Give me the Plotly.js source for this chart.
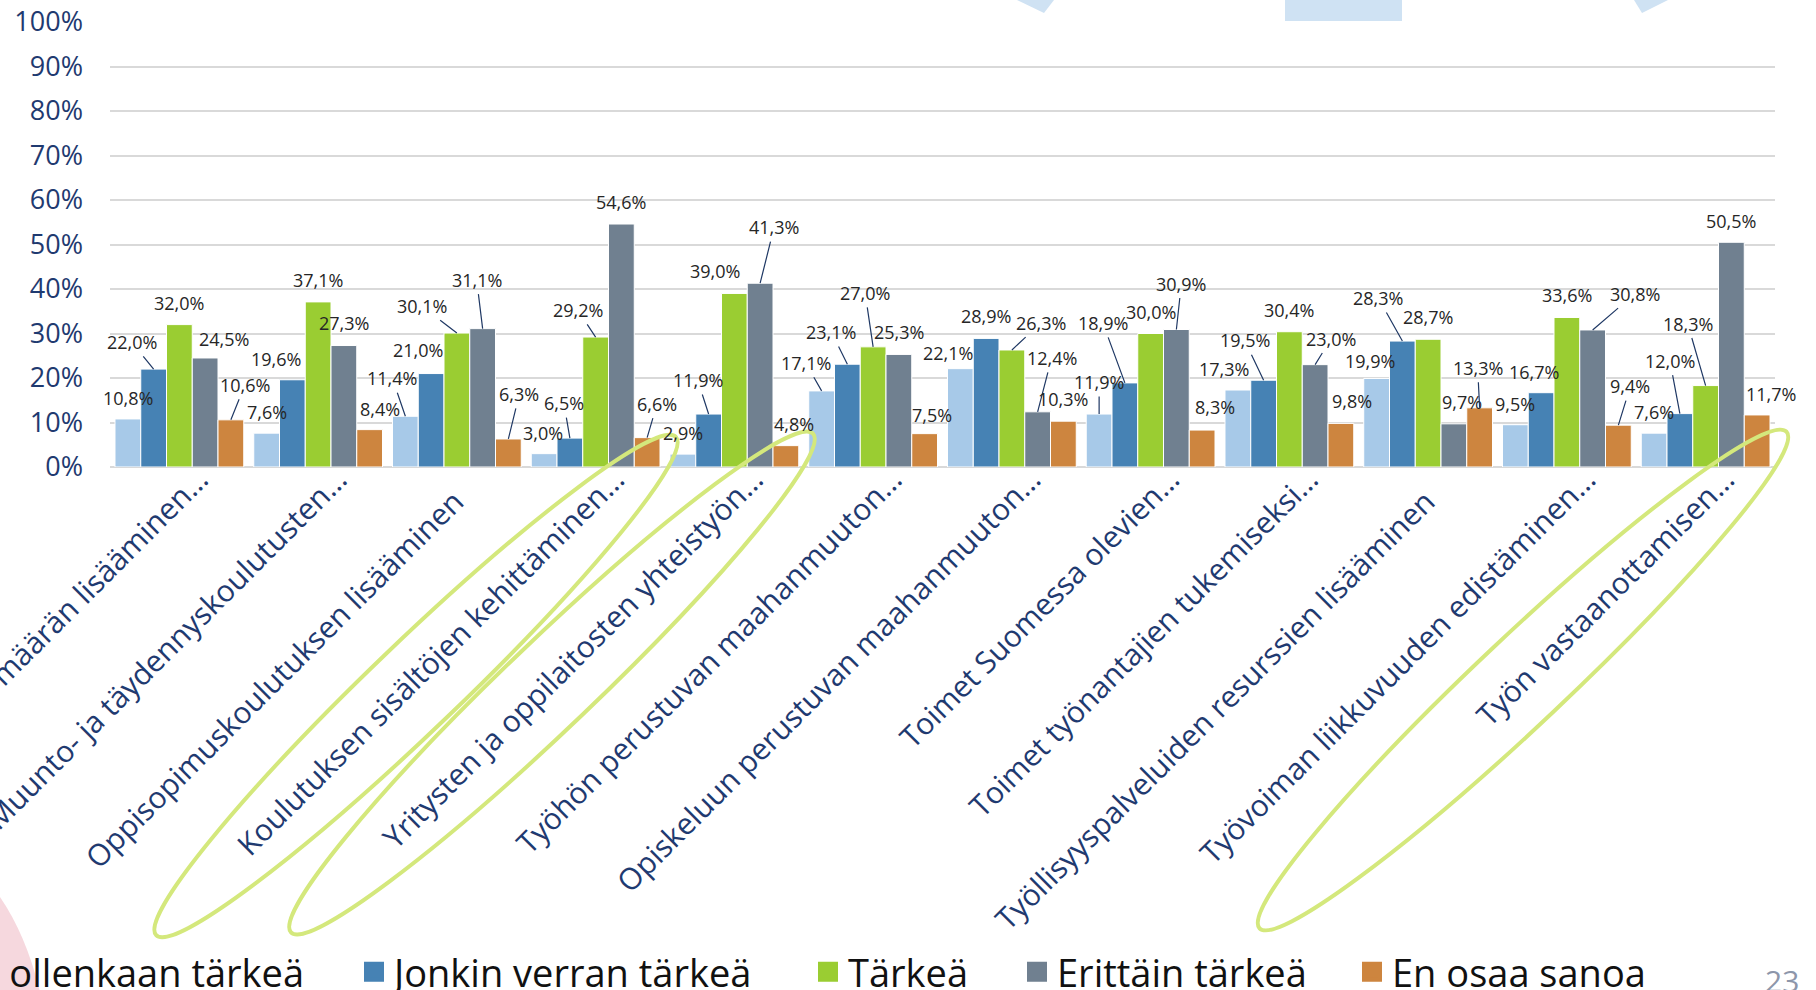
<!DOCTYPE html>
<html>
<head>
<meta charset="utf-8">
<script src="https://cdn.plot.ly/plotly-3.0.1.min.js"></script>
<style>html,body{margin:0;padding:0;background:#fff;overflow:hidden}</style>
</head>
<body>
<div id="chart" style="width:1816px;height:990px"></div>
<script>
// ---------- data ----------
const NB = '\u00A0\u00A0\u00A0\u00A0'; // trailing non-breaking spaces: aligns untruncated labels like the original
const categories = [
  'Koulutuspaikkojen määrän lisääminen…',
  'Muunto- ja täydennyskoulutusten…',
  'Oppisopimuskoulutuksen lisääminen' + NB,
  'Koulutuksen sisältöjen kehittäminen…',
  'Yritysten ja oppilaitosten yhteistyön…',
  'Työhön perustuvan maahanmuuton…',
  'Opiskeluun perustuvan maahanmuuton…',
  'Toimet Suomessa olevien…',
  'Toimet työnantajien tukemiseksi…',
  'Työllisyyspalveluiden resurssien lisääminen' + NB,
  'Työvoiman liikkuvuuden edistäminen…',
  'Työn vastaanottamisen…'
];
const seriesNames = ['Ei ollenkaan tärkeä', 'Jonkin verran tärkeä', 'Tärkeä', 'Erittäin tärkeä', 'En osaa sanoa'];
const eiOllenkaanTarkea  = [10.8, 7.6, 11.4, 3.0, 2.9, 17.1, 22.1, 11.9, 17.3, 19.9, 9.5, 7.6];
const jonkinVerranTarkea = [22.0, 19.6, 21.0, 6.5, 11.9, 23.1, 28.9, 18.9, 19.5, 28.3, 16.7, 12.0];
const tarkea             = [32.0, 37.1, 30.1, 29.2, 39.0, 27.0, 26.3, 30.0, 30.4, 28.7, 33.6, 18.3];
const erittainTarkea     = [24.5, 27.3, 31.1, 54.6, 41.3, 25.3, 12.4, 30.9, 23.0, 9.7, 30.8, 50.5];
const enOsaaSanoa        = [10.6, 8.4, 6.3, 6.6, 4.8, 7.5, 10.3, 8.3, 9.8, 13.3, 9.4, 11.7];
const yTickValues = [0, 10, 20, 30, 40, 50, 60, 70, 80, 90, 100];
const yTickLabels = ['0%', '10%', '20%', '30%', '40%', '50%', '60%', '70%', '80%', '90%', '100%'];
const pageNumber = '23';

// ---------- styling ----------
const seriesValues = [eiOllenkaanTarkea, jonkinVerranTarkea, tarkea, erittainTarkea, enOsaaSanoa];
const seriesColors = ['#A7C9E8', '#4682B4', '#9ACD32', '#708090', '#CD853F'];
const FONT = '"Open Sans", "Liberation Sans", sans-serif';
const NAVY = '#1F3A70';

// data-label placement (pixel offsets of label from bar top, leader line flag)
const labelPlacement = [
  [[0,-21,0],[0,-21,0],[-13,-38,1],[-1,-21,0],[0,-21,0],[-16,-28,1],[-12,-16,0],[0,-32,1],[-14,-21,0],[-7,-17,0],[0,-21,0],[0,-21,0]],
  [[-22,-27,1],[-16,-21,0],[-13,-24,0],[-6,-35,1],[-11,-34,1],[-16,-32,1],[0,-22,0],[-22,-60,1],[-19,-40,1],[-24,-43,1],[-7,-21,0],[-10,-53,1]],
  [[0,-22,0],[0,-22,0],[-35,-27,1],[-18,-27,1],[-19,-22,0],[-8,-54,1],[29,-27,1],[0,-22,0],[0,-22,0],[0,-22,0],[0,-22,0],[-18,-62,1]],
  [[19,-19,0],[0,-23,0],[-6,-49,1],[0,-22,0],[14,-56,1],[0,-22,0],[14,-54,1],[5,-46,1],[16,-26,1],[8,-22,0],[42,-36,1],[0,-21,0]],
  [[14,-35,1],[10,-21,0],[11,-45,1],[10,-34,1],[8,-22,0],[7,-19,0],[0,-22,0],[13,-23,0],[11,-22,0],[-2,-40,1],[12,-39,1],[14,-21,0]]
];

const W = 1816, H = 990;
const PL = 110, PR = 1775, PT = 22, PB = 467;
const BARGAP = 0.072;
const px2x = p => (p - PL) / (PR - PL);
const py2y = p => (PB - p) / (PB - PT);
const catW = (PR - PL) / categories.length;
const barW = catW * (1 - BARGAP) / seriesNames.length;

const fmt = v => v.toFixed(1).replace('.', ',') + '%';

// ---------- traces ----------
const traces = [];
seriesValues.forEach((vals, j) => {
  traces.push({
    type: 'bar', name: seriesNames[j], x: categories, y: vals,
    marker: {color: seriesColors[j], line: {color: '#FFFFFF', width: 1}},
    showlegend: false, hoverinfo: 'skip'
  });
});
// legend entries (one legend per series so spacing can follow the original)
seriesNames.forEach((nm, j) => {
  traces.push({
    type: 'scatter', mode: 'markers', name: nm, x: [null], y: [null],
    marker: {symbol: 'square', size: 16, color: seriesColors[j], line: {color: seriesColors[j], width: 4}},
    showlegend: true, legend: j === 0 ? 'legend' : 'legend' + (j + 1), hoverinfo: 'skip'
  });
});

// ---------- annotations ----------
const annotations = [];
seriesValues.forEach((vals, j) => {
  vals.forEach((v, i) => {
    const pl = labelPlacement[j][i];
    annotations.push({
      x: categories[i], y: v, xref: 'x', yref: 'y',
      xshift: (j - 2) * barW,
      text: fmt(v), showarrow: true, ax: pl[0], ay: pl[1], axref: 'pixel', ayref: 'pixel',
      arrowhead: 0, arrowwidth: 1.2, standoff: 0, startstandoff: 1,
      arrowcolor: pl[2] ? '#1F3864' : 'rgba(0,0,0,0)',
      font: {family: FONT, size: 18, color: '#262626'}
    });
  });
});
annotations.push({
  x: px2x(1782), y: py2y(980), xref: 'paper', yref: 'paper', showarrow: false,
  text: pageNumber, font: {family: FONT, size: 30, color: '#8D96AA'}, xanchor: 'center', yanchor: 'middle'
});

// ---------- decorative shapes ----------
function poly(pts) {
  return 'M' + pts.map(p => px2x(p[0]).toFixed(5) + ',' + py2y(p[1]).toFixed(5)).join(' L') + ' Z';
}
function ellipsePath(cx, cy, a, b, deg) {
  const t = deg * Math.PI / 180;
  const u = [Math.cos(t), -Math.sin(t)], v = [Math.sin(t), Math.cos(t)];
  const k = 0.5523;
  const P = (ca, cb) => [cx + ca * a * u[0] + cb * b * v[0], cy + ca * a * u[1] + cb * b * v[1]];
  const pts = [
    [P(1,0)],
    [P(1,k), P(k,1), P(0,1)],
    [P(-k,1), P(-1,k), P(-1,0)],
    [P(-1,-k), P(-k,-1), P(0,-1)],
    [P(k,-1), P(1,-k), P(1,0)]
  ];
  const c = p => px2x(p[0]).toFixed(5) + ',' + py2y(p[1]).toFixed(5);
  let s = 'M' + c(pts[0][0]);
  for (let q = 1; q < pts.length; q++) s += ' C' + pts[q].map(c).join(' ');
  return s + ' Z';
}
const shapes = [
  {type: 'path', xref: 'paper', yref: 'paper', layer: 'below', path: poly([[1017,0],[1044,13],[1054,0]]), fillcolor: '#CFE2F3', line: {width: 0}},
  {type: 'path', xref: 'paper', yref: 'paper', layer: 'below', path: poly([[1285,0],[1402,0],[1402,21],[1285,21]]), fillcolor: '#CFE2F3', line: {width: 0}},
  {type: 'path', xref: 'paper', yref: 'paper', layer: 'below', path: poly([[1634,0],[1642,13],[1668,0]]), fillcolor: '#CFE2F3', line: {width: 0}},
  {type: 'path', xref: 'paper', yref: 'paper', layer: 'below', path: 'M' + px2x(-5) + ',' + py2y(890) + ' Q' + px2x(25) + ',' + py2y(930) + ' ' + px2x(40) + ',' + py2y(992) + ' L' + px2x(-5) + ',' + py2y(992) + ' Z', fillcolor: '#F6D8DE', line: {width: 0}},
  {type: 'path', xref: 'paper', yref: 'paper', layer: 'above', path: ellipsePath(416, 686, 360, 44, 43.8), line: {color: '#D4E87C', width: 4}},
  {type: 'path', xref: 'paper', yref: 'paper', layer: 'above', path: ellipsePath(552, 683, 361, 44, 43.7), line: {color: '#D4E87C', width: 4}},
  {type: 'path', xref: 'paper', yref: 'paper', layer: 'above', path: ellipsePath(1523, 680, 362, 44, 43.3), line: {color: '#D4E87C', width: 4}}
];

// ---------- legends ----------
const LEGEND_FONT = 38;
const cv = document.createElement('canvas').getContext('2d');
cv.font = LEGEND_FONT + 'px "Open Sans"';
const firstTextStart = 304 - cv.measureText(seriesNames[0]).width;
const legendTextStarts = [firstTextStart, 394, 848, 1057, 1392];
const legendY = py2y(972);

const layout = {
  width: W, height: H,
  margin: {l: PL, r: W - PR, t: PT, b: H - PB, pad: 0, autoexpand: false},
  paper_bgcolor: '#FFFFFF', plot_bgcolor: '#FFFFFF',
  barmode: 'group', bargap: BARGAP, bargroupgap: 0,
  font: {family: FONT, color: NAVY},
  hovermode: false,
  xaxis: {
    type: 'category', range: [-0.5, categories.length - 0.5], autorange: false,
    tickangle: -45, automargin: false, showgrid: false, showline: false, zeroline: false,
    ticks: '', ticklabelstandoff: -12, ticklabelshift: 20, tickfont: {family: FONT, size: 30, color: NAVY}, fixedrange: true
  },
  yaxis: {
    range: [0, 100], tickvals: yTickValues, ticktext: yTickLabels, automargin: false,
    showgrid: true, gridcolor: '#D9D9D9', gridwidth: 2, zeroline: true, zerolinecolor: '#D9D9D9', zerolinewidth: 2,
    showline: false, ticks: '', ticklabelstandoff: 26, tickfont: {family: FONT, size: 27, color: NAVY}, fixedrange: true
  },
  annotations: annotations,
  shapes: shapes
};
legendTextStarts.forEach((tx, j) => {
  const key = j === 0 ? 'legend' : 'legend' + (j + 1);
  layout[key] = {
    orientation: 'h', x: px2x(tx - 40), xanchor: 'left', y: legendY, yanchor: 'middle',
    font: {family: FONT, size: LEGEND_FONT, color: '#111111'}, bgcolor: 'rgba(0,0,0,0)', borderwidth: 0,
    itemsizing: 'trace', itemclick: false, itemdoubleclick: false
  };
});

Plotly.newPlot('chart', traces, layout, {displayModeBar: false, staticPlot: true});
</script>
</body>
</html>
